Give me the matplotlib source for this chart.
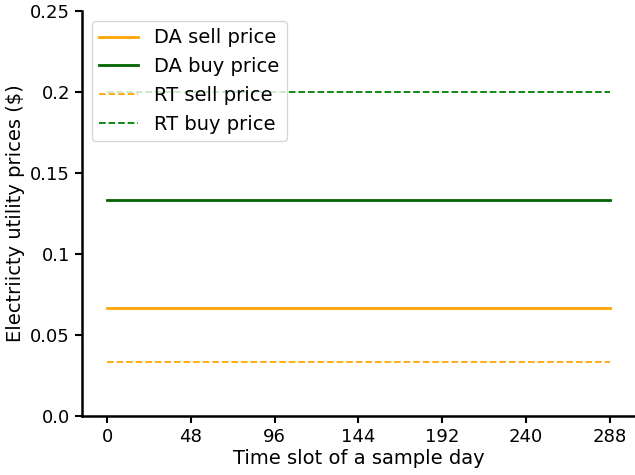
import numpy as np
import matplotlib
matplotlib.use("Agg")
import matplotlib.pyplot as plt

# Time slots of one day (5-minute resolution)
slots = np.arange(0, 289)

# Flat utility tariffs ($)
da_sell = 0.0667
da_buy = 0.1333
rt_sell = 0.0333
rt_buy = 0.2

x_ticks = [0, 48, 96, 144, 192, 240, 288]
y_ticks = [0.0, 0.05, 0.1, 0.15, 0.2, 0.25]
y_tick_labels = ["0.0", "0.05", "0.1", "0.15", "0.2", "0.25"]

fig, ax = plt.subplots(figsize=(6.35, 4.75), dpi=100)
fig.subplots_adjust(left=0.129, right=1.0, top=0.977, bottom=0.124)

ax.plot(slots, np.full(slots.shape, da_sell), color="orange", lw=2, label="DA sell price")
ax.plot(slots, np.full(slots.shape, da_buy), color="darkgreen", lw=2, label="DA buy price")
ax.plot(slots, np.full(slots.shape, rt_sell), color="orange", lw=1.3, ls="--", label="RT sell price")
ax.plot(slots, np.full(slots.shape, rt_buy), color="green", lw=1.3, ls="--", label="RT buy price")

ax.set_ylim(0, 0.25)
ax.set_xticks(x_ticks)
ax.set_yticks(y_ticks)
ax.set_yticklabels(y_tick_labels)
ax.tick_params(labelsize=13, width=1.5, length=5)
ax.spines["top"].set_visible(False)
ax.spines["right"].set_visible(False)
ax.spines["left"].set_linewidth(1.8)
ax.spines["bottom"].set_linewidth(1.8)

ax.set_xlabel("Time slot of a sample day", fontsize=14, labelpad=2)
ax.set_ylabel("Electriicty utility prices ($)", fontsize=14)
ax.legend(loc="upper left", fontsize=14)

fig.savefig("out.png")
